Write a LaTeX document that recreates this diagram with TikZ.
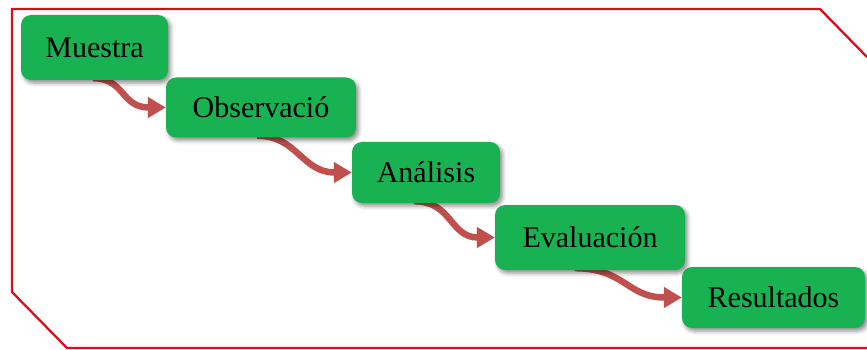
\documentclass[tikz,border=0pt]{standalone}
\usepackage{fontspec}
\setmainfont{Liberation Serif}
\usetikzlibrary{shadows,shadows.blur,arrows.meta,backgrounds,calc}
\definecolor{boxgreen}{RGB}{24,178,82}
\definecolor{arrowred}{RGB}{192,80,77}
\definecolor{framered}{RGB}{214,16,26}
\begin{document}
\begin{tikzpicture}[x=1pt,y=-1pt,
  stepbox/.style={draw=none,fill=boxgreen,rounded corners=10pt,inner sep=0pt,
    font=\fontsize{30}{34}\selectfont,text=black,
    blur shadow={shadow xshift=2.5pt,shadow yshift=-3pt,shadow blur radius=4pt,shadow opacity=45}},
  flowarrow/.style={draw=arrowred,line width=6.5pt,
    -{Triangle[length=18pt,width=20pt]}}]
\useasboundingbox (0,0) rectangle (867,350);
% frame
\draw[framered,line width=2.3pt,line join=miter]
  (867,57) -- (820,9) -- (12,9) -- (12,292) -- (67,348) -- (867,348);
% boxes
\node[stepbox,minimum width=147pt,minimum height=65pt] (m) at (94.5,47.5) {Muestra};
\node[stepbox,minimum width=190pt,minimum height=60pt] (o) at (261,107.5) {Observació};
\node[stepbox,minimum width=148pt,minimum height=61pt] (a) at (426,172.5) {Análisis};
\node[stepbox,minimum width=190pt,minimum height=65pt] (e) at (590,237.5) {Evaluación};
\node[stepbox,minimum width=183pt,minimum height=61pt] (r) at (773.5,297.5) {Resultados};
% arrows
\begin{scope}[on background layer]
\coordinate (s1) at ($(m.south west)!0.49!(m.south east)+(0,-2)$);
\coordinate (s2) at ($(o.south west)!0.48!(o.south east)+(0,-2)$);
\coordinate (s3) at ($(a.south west)!0.42!(a.south east)+(0,-2)$);
\coordinate (s4) at ($(e.south west)!0.42!(e.south east)+(0,-2)$);
\draw[flowarrow] (s1) .. controls ($(s1)+(32,0)$) and ($(o.west)+(-45,0)$) .. (o.west);
\draw[flowarrow] (s2) .. controls ($(s2)+(40,0)$) and ($(a.west)+(-50,0)$) .. (a.west);
\draw[flowarrow] (s3) .. controls ($(s3)+(38,0)$) and ($(e.west)+(-45,0)$) .. (e.west);
\draw[flowarrow] (s4) .. controls ($(s4)+(50,0)$) and ($(r.west)+(-55,0)$) .. (r.west);
\end{scope}
\end{tikzpicture}
\end{document}
